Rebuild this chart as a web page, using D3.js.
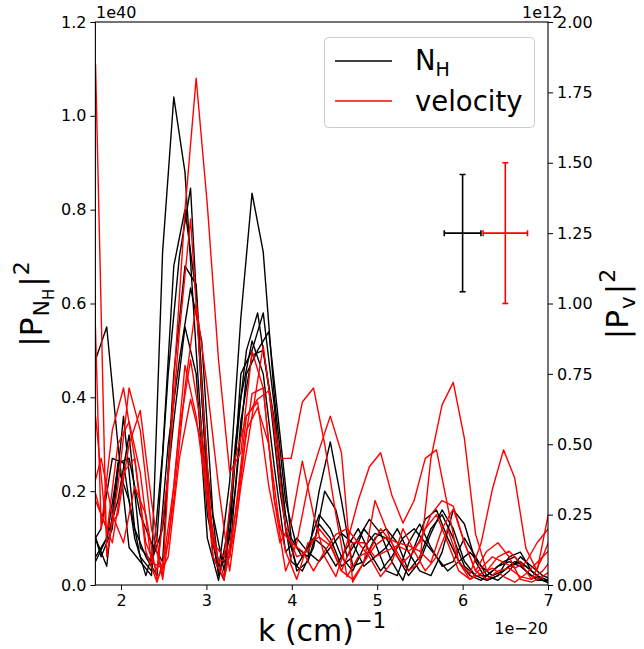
<!DOCTYPE html>
<html><head><meta charset="utf-8">
<script src="https://cdn.jsdelivr.net/npm/d3@7"></script>
<style>
body{margin:0;background:#fff}
svg{display:block}
text{font-family:"DejaVu Sans",sans-serif;fill:#000}
</style>
</head><body>
<svg id="c" width="644" height="649"></svg>
<script>
// k grids (units of 1e-20 cm^-1)
const kA = [1.7017,1.8326,1.9635,2.0944,2.2253,2.3562,2.4871,2.6180,2.7489,2.8798,3.0107,3.1416,3.2725,3.4034,3.5343,3.6652,3.7961,3.9270,4.0579,4.1888,4.3197,4.4506,4.5815,4.7124,4.8433,4.9742,5.1051,5.2360,5.3669,5.4978,5.6287,5.7596,5.8905,6.0214,6.1523,6.2832,6.4141,6.5450,6.6759,6.8068,6.9377,7.0686];
const kB = [1.6362,1.7671,1.8980,2.0289,2.1598,2.2907,2.4216,2.5525,2.6834,2.8143,2.9452,3.0761,3.2070,3.3379,3.4688,3.5997,3.7306,3.8615,3.9924,4.1233,4.2542,4.3851,4.5160,4.6469,4.7778,4.9087,5.0396,5.1705,5.3014,5.4323,5.5632,5.6941,5.8250,5.9559,6.0868,6.2177,6.3486,6.4795,6.6104,6.7413,6.8722,7.0031];

// N_H power spectra (x 1e40), left axis
const nh1 = [0.05,0.10,0.25,0.18,0.06,0.03,0.71,1.04,0.88,0.50,0.15,0.03,0.22,0.57,0.835,0.71,0.40,0.18,0.08,0.06,0.20,0.305,0.18,0.04,0.05,0.10,0.12,0.09,0.03,0.06,0.12,0.15,0.10,0.04,0.02,0.01,0.02,0.06,0.07,0.03,0.01,0.01];
const nh2 = [0.48,0.55,0.30,0.08,0.05,0.02,0.28,0.68,0.80,0.62,0.20,0.02,0.10,0.45,0.50,0.58,0.38,0.12,0.04,0.08,0.15,0.12,0.06,0.03,0.08,0.11,0.10,0.06,0.02,0.05,0.11,0.16,0.12,0.05,0.02,0.02,0.04,0.05,0.04,0.02,0.01,0.00];
const nh3 = [0.08,0.12,0.27,0.26,0.10,0.02,0.10,0.45,0.70,0.846,0.40,0.06,0.01,0.30,0.50,0.58,0.42,0.20,0.05,0.03,0.08,0.20,0.16,0.06,0.10,0.14,0.11,0.05,0.01,0.08,0.14,0.16,0.10,0.05,0.02,0.01,0.03,0.05,0.06,0.03,0.01,0.01];
const nh4 = [0.14,0.06,0.12,0.36,0.12,0.06,0.02,0.30,0.48,0.633,0.52,0.15,0.03,0.20,0.45,0.50,0.54,0.32,0.10,0.06,0.10,0.08,0.04,0.08,0.12,0.07,0.03,0.06,0.10,0.12,0.09,0.06,0.03,0.05,0.07,0.04,0.02,0.03,0.05,0.04,0.02,0.01];
const nh5 = [0.10,0.04,0.26,0.27,0.15,0.09,0.05,0.45,0.68,0.64,0.25,0.04,0.06,0.35,0.49,0.50,0.35,0.15,0.03,0.05,0.13,0.10,0.04,0.06,0.12,0.09,0.03,0.02,0.09,0.13,0.08,0.04,0.05,0.10,0.06,0.02,0.01,0.03,0.06,0.04,0.02,0.01];
const nh6 = [0.06,0.10,0.18,0.32,0.08,0.05,0.12,0.35,0.55,0.45,0.10,0.01,0.14,0.40,0.52,0.45,0.25,0.07,0.10,0.07,0.05,0.08,0.11,0.09,0.04,0.06,0.08,0.12,0.07,0.03,0.02,0.07,0.16,0.13,0.05,0.01,0.02,0.04,0.05,0.03,0.01,0.00];

// velocity power spectra (x 1e12), right axis
const v1 = [1.85,0.10,0.35,0.70,0.55,0.20,0.03,0.72,1.33,1.80,1.35,0.80,0.40,0.47,0.83,0.70,0.30,0.05,0.15,0.35,0.48,0.60,0.47,0.01,0.08,0.30,0.20,0.10,0.05,0.08,0.45,0.64,0.72,0.52,0.18,0.05,0.10,0.12,0.08,0.02,0.05,0.10];
const v2 = [1.60,0.20,0.55,0.70,0.45,0.15,0.05,0.40,0.90,1.30,0.70,0.15,0.10,0.45,0.60,0.66,0.69,0.45,0.45,0.65,0.70,0.50,0.25,0.03,0.10,0.12,0.20,0.15,0.08,0.12,0.20,0.25,0.15,0.05,0.02,0.04,0.06,0.03,0.01,0.04,0.08,0.12];
const v3 = [0.30,0.20,0.25,0.50,0.62,0.30,0.02,0.30,0.70,1.00,0.70,0.35,0.05,0.35,0.60,0.85,0.55,0.20,0.10,0.12,0.20,0.15,0.05,0.15,0.15,0.10,0.12,0.14,0.12,0.15,0.25,0.30,0.28,0.15,0.05,0.02,0.05,0.06,0.03,0.02,0.10,0.20];
const v4 = [0.30,0.45,0.25,0.15,0.35,0.25,0.02,0.10,0.45,0.66,0.50,0.10,0.02,0.20,0.55,0.63,0.50,0.20,0.15,0.12,0.05,0.12,0.18,0.20,0.15,0.10,0.03,0.08,0.20,0.12,0.05,0.10,0.20,0.08,0.04,0.15,0.34,0.48,0.38,0.13,0.05,0.25];
const v5 = [0.60,0.18,0.50,0.58,0.40,0.08,0.06,0.35,0.78,0.60,0.30,0.08,0.10,0.40,0.68,0.70,0.30,0.12,0.02,0.15,0.17,0.14,0.05,0.02,0.08,0.14,0.17,0.15,0.14,0.12,0.08,0.20,0.27,0.15,0.05,0.12,0.15,0.10,0.02,0.01,0.03,0.06];
const v6 = [0.40,0.25,0.15,0.40,0.45,0.12,0.01,0.15,0.55,0.80,0.55,0.15,0.03,0.25,0.60,0.65,0.35,0.15,0.22,0.44,0.25,0.10,0.03,0.15,0.30,0.42,0.47,0.32,0.22,0.30,0.45,0.48,0.28,0.08,0.02,0.06,0.10,0.08,0.06,0.08,0.15,0.20];

const nhSeries = [[kA,nh1],[kA,nh2],[kB,nh3],[kB,nh4],[kA,nh5],[kA,nh6]];
const vSeries = [[kA,v1],[kB,v2],[kA,v3],[kB,v4],[kA,v5],[kB,v6]];

// representative error bars
const errNH = {k:6.0, p:0.75, kerr:0.215, perr:0.125};
const errV  = {k:6.5, p:1.25, kerr:0.26, perr:0.25};

const xTicks = [2,3,4,5,6,7];
const yLTicks = [0,0.2,0.4,0.6,0.8,1.0,1.2];
const yRTicks = [0,0.25,0.5,0.75,1.0,1.25,1.5,1.75,2.0];

const svg = d3.select('#c');
const L=95.4, R=548, T=22, B=585;
const x = d3.scaleLinear().domain([1.7,7]).range([L,R]);
const yL = d3.scaleLinear().domain([0,1.2]).range([B,T]);
const yR = d3.scaleLinear().domain([0,2]).range([B,T]);

svg.append('defs').append('clipPath').attr('id','clip')
  .append('rect').attr('x',L).attr('y',T).attr('width',R-L).attr('height',B-T);

const gL = svg.append('g').attr('clip-path','url(#clip)');
nhSeries.forEach(([ks,vals])=>{
  const line = d3.line().x((d,i)=>x(ks[i])).y(d=>yL(d));
  gL.append('path').datum(vals).attr('d',line).attr('fill','none')
    .attr('stroke','#000').attr('stroke-width',1.4).attr('stroke-linejoin','round');
});
function errbar(g, e, ys, col){
  const cx=x(e.k), cy=ys(e.p), cap=3;
  const x0=x(e.k-e.kerr), x1=x(e.k+e.kerr), y0=ys(e.p-e.perr), y1=ys(e.p+e.perr);
  const s=[[x0,cy,x1,cy],[cx,y0,cx,y1],[x0,cy-cap,x0,cy+cap],[x1,cy-cap,x1,cy+cap],[cx-cap,y0,cx+cap,y0],[cx-cap,y1,cx+cap,y1]];
  s.forEach(a=>g.append('line').attr('x1',a[0]).attr('y1',a[1]).attr('x2',a[2]).attr('y2',a[3])
    .attr('stroke',col).attr('stroke-width',1.6));
}
errbar(gL, errNH, yL, '#000');

const gR = svg.append('g').attr('clip-path','url(#clip)');
vSeries.forEach(([ks,vals])=>{
  const line = d3.line().x((d,i)=>x(ks[i])).y(d=>yR(d));
  gR.append('path').datum(vals).attr('d',line).attr('fill','none')
    .attr('stroke','#ff0000').attr('stroke-width',1.4).attr('stroke-linejoin','round');
});
errbar(gR, errV, yR, '#ff0000');

// frame
svg.append('rect').attr('x',L).attr('y',T).attr('width',R-L).attr('height',B-T)
  .attr('fill','none').attr('stroke','#000').attr('stroke-width',1.1);

function styleAxis(g){
  g.select('.domain').remove();
  g.selectAll('.tick line').attr('stroke','#000').attr('stroke-width',1);
  g.selectAll('.tick text').attr('font-size',16).attr('font-family','"DejaVu Sans",sans-serif').attr('fill','#000');
}
svg.append('g').attr('transform',`translate(0,${B})`)
  .call(d3.axisBottom(x).tickValues(xTicks).tickFormat(d3.format('d')).tickSize(5).tickPadding(5))
  .call(styleAxis);
svg.append('g').attr('transform',`translate(${L},0)`)
  .call(d3.axisLeft(yL).tickValues(yLTicks).tickFormat(d3.format('.1f')).tickSize(5).tickPadding(4))
  .call(styleAxis);
svg.append('g').attr('transform',`translate(${R},0)`)
  .call(d3.axisRight(yR).tickValues(yRTicks).tickFormat(d3.format('.2f')).tickSize(5).tickPadding(4))
  .call(styleAxis);

// offset texts
svg.append('text').attr('x',96).attr('y',18).attr('font-size',16).text('1e40');
svg.append('text').attr('x',522).attr('y',18).attr('font-size',16).text('1e12');
svg.append('text').attr('x',548).attr('y',634).attr('font-size',16).attr('text-anchor','end').text('1e\u221220');

// x label
const xl = svg.append('text').attr('x',322).attr('y',641).attr('font-size',30).attr('text-anchor','middle');
xl.append('tspan').text('k (cm)');
xl.append('tspan').attr('font-size',21).attr('dy',-13).attr('dx',1).text('\u22121');

// left y label
const yl = svg.append('text').attr('transform','translate(42,304) rotate(-90)').attr('font-size',31).attr('text-anchor','middle');
yl.append('tspan').text('|P');
yl.append('tspan').attr('font-size',22).attr('dy',7).attr('dx',1).text('N');
yl.append('tspan').attr('font-size',15).attr('dy',5).text('H');
yl.append('tspan').attr('font-size',31).attr('dy',-12).attr('dx',2).text('|');
yl.append('tspan').attr('font-size',22).attr('dy',-13).attr('dx',1).text('2');

// right y label
const yr = svg.append('text').attr('transform','translate(628,304) rotate(-90)').attr('font-size',31).attr('text-anchor','middle');
yr.append('tspan').text('|P');
yr.append('tspan').attr('font-size',22).attr('dy',7).attr('dx',1).text('v');
yr.append('tspan').attr('font-size',31).attr('dy',-7).attr('dx',2).text('|');
yr.append('tspan').attr('font-size',22).attr('dy',-13).attr('dx',1).text('2');

// legend
const lg = svg.append('g');
lg.append('rect').attr('x',324.5).attr('y',37.5).attr('width',210).attr('height',90).attr('rx',4)
  .attr('fill','#fff').attr('fill-opacity',0.8).attr('stroke','#cccccc').attr('stroke-width',1);
lg.append('line').attr('x1',335).attr('x2',392).attr('y1',61).attr('y2',61).attr('stroke','#000').attr('stroke-width',1.4);
lg.append('line').attr('x1',335).attr('x2',392).attr('y1',101).attr('y2',101).attr('stroke','#ff0000').attr('stroke-width',1.4);
const t1 = lg.append('text').attr('x',415).attr('y',70).attr('font-size',27.5);
t1.append('tspan').text('N');
t1.append('tspan').attr('font-size',19).attr('dy',6).text('H');
lg.append('text').attr('x',415).attr('y',111).attr('font-size',27.5).text('velocity');
</script>
</body></html>
